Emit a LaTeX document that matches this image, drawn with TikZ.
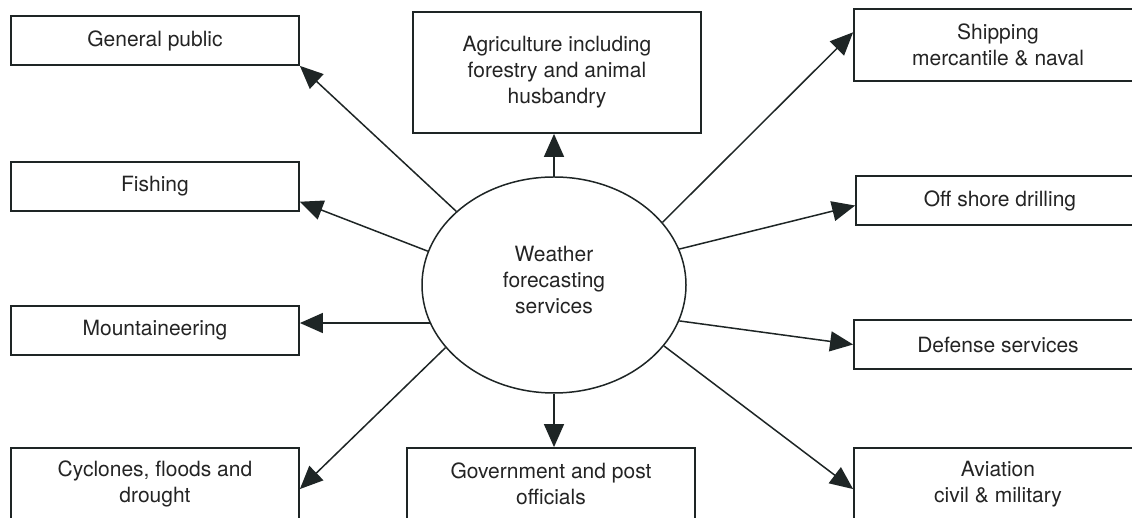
\documentclass[tikz,border=0pt]{standalone}
\usepackage{fontspec}
\setmainfont{TeX Gyre Heros}
\usepackage{tikz}
\usepackage{xcolor}
\usetikzlibrary {arrows.meta,shapes.geometric,positioning,calc}
\definecolor{DiagramInk}{HTML}{1E2525}
\definecolor{DiagramText}{HTML}{242424}
\tikzstyle{UserBox} =[draw=DiagramInk,line width=1.8pt,rectangle,minimum width=288pt,minimum height=49pt,inner sep=0pt,align=center,text=DiagramText,font=\fontsize{21pt}{26pt}\selectfont]
\tikzstyle{TwoLineBox} =[UserBox,minimum height=72pt]
\tikzstyle{ServiceHub} =[draw=DiagramInk,line width=1.5pt,ellipse,minimum width=264pt,minimum height=216pt,inner sep=0pt,align=center,text=DiagramText,font=\fontsize{21pt}{26pt}\selectfont]

\begin{document}
\begin{tikzpicture}[->,>={Triangle[length=23pt,width=20pt]},x=1pt,y=1pt,on grid,line width=1.5pt,draw=DiagramInk]
    \useasboundingbox (0,0) rectangle (1132,518);
    \clip (0,0) rectangle (1132,518);
    \node[ServiceHub](Weather-Services) at (554,233){Weather\\forecasting\\services\rule[-10pt]{0pt}{0pt}};

    % left column
    \node[UserBox,above left=244.5pt and 399pt of Weather-Services](General-Public){General public};
    \node[UserBox,above left=98.5pt and 399pt of Weather-Services](Fishing){Fishing};
    \node[UserBox,below left=45.5pt and 399pt of Weather-Services](Mountaineering){Mountaineering};
    \node[TwoLineBox,below left=199pt and 399pt of Weather-Services](Cyclones){Cyclones, floods and\\drought};

    % middle column
    \node[UserBox,minimum height=121pt,above right=212.5pt and 3pt of Weather-Services](Agriculture){Agriculture including\\forestry and animal\\husbandry};
    \node[TwoLineBox,below left=199pt and 3pt of Weather-Services](Government){Government and post\\officials};

    % right column
    \node[TwoLineBox,above right=240pt and 444pt of Weather-Services](Shipping){Shipping\\mercantile \& naval};
    \node[UserBox,above right=84.5pt and 446pt of Weather-Services](Offshore){Off shore drilling};
    \node[UserBox,below right=59.5pt and 444pt of Weather-Services](Defense){Defense services};
    \node[TwoLineBox,below right=199pt and 444pt of Weather-Services](Aviation){Aviation\\civil \& military};

    \draw[DiagramInk] (Weather-Services.143) -> (General-Public.south east);
    \draw[DiagramInk] (Weather-Services.165) -> (Fishing.354);
    \draw[DiagramInk] (Weather-Services.197) -> (Weather-Services.197 -| Mountaineering.east);
    \draw[DiagramInk] (Weather-Services.210) -> (Cyclones.358);
    \draw[DiagramInk] (Weather-Services.north) -> (Weather-Services.north |- Agriculture.south);
    \draw[DiagramInk] (Weather-Services.south) -> (Weather-Services.south |- Government.north);
    \draw[DiagramInk] (Weather-Services.30) -> (Shipping.175);
    \draw[DiagramInk] (Weather-Services.16) -> (Offshore.182);
    \draw[DiagramInk] (Weather-Services.344) -> (Defense.west);
    \draw[DiagramInk] (Weather-Services.331) -> (Aviation.182);
\end{tikzpicture}
\end{document}
